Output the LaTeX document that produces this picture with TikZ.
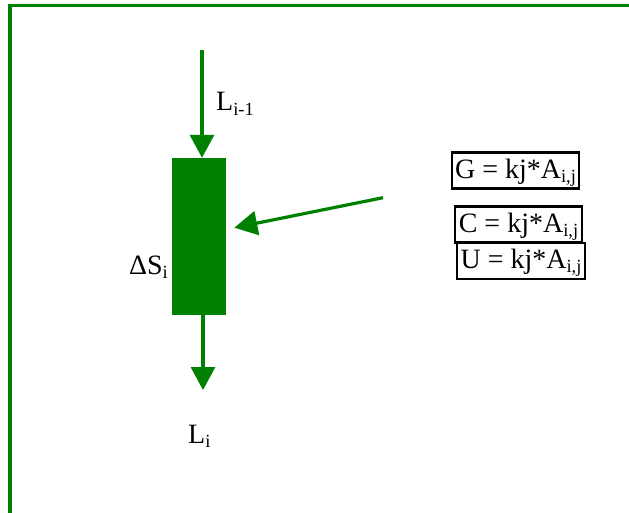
\documentclass[tikz,border=0pt]{standalone}
\usepackage{fontspec}
\setmainfont{Liberation Serif}
\usetikzlibrary{arrows.meta}
\definecolor{flow}{RGB}{0,128,0}
% lowered, smaller index text
\newcommand{\lowidx}[1]{\raisebox{-4.5pt}{\fontsize{18.5}{18.5}\selectfont #1}}
\begin{document}
\begin{tikzpicture}[x=1pt,y=-1pt,
  flowline/.style={draw=flow, line width=3.2pt, -{Triangle[width=24pt,length=23pt]}},
  lbl/.style={inner sep=0pt, font=\fontsize{28}{28}\selectfont},
  eqbox/.style={draw=black, line width=2.2pt, inner sep=0pt,
    text height=20pt, text depth=5pt, minimum height=36pt,
    font=\fontsize{28}{28}\selectfont}]
\useasboundingbox (0,0) rectangle (629,512);
\clip (0,0) rectangle (629,512);
% frame
\draw[flow, line width=3.4pt] (10,5.7) rectangle (700,600);

% storage block
\node[fill=flow, inner sep=0pt, minimum width=54pt, minimum height=157pt] (stor) at (199,236.5) {};

% inflow and outflow
\coordinate (top) at (202,50);
\coordinate (bot) at (203,390);
\draw[flowline] (top) -- (top |- stor.north);
\draw[flowline] (bot |- stor.south) -- (bot);

% lateral input
\coordinate (src) at (383,197.7);
\coordinate (tgt) at (234.3,227.7);
\draw[flowline] (src) -- (tgt);

% labels
\node[lbl, anchor=base west] (lin) at (216,110.5) {L\lowidx{i-1}};
\node[lbl, anchor=base east] (ds) at (168,274) {ΔS\lowidx{i}};
\node[lbl, anchor=base west] (lout) at (188,443) {L\lowidx{i}};

% equations
\node[eqbox, minimum width=127pt] (g) at (515.5,170.5) {G = kj*A\lowidx{i,j}};
\node[eqbox, minimum width=127pt] (c) at (518.5,224.5) {C = kj*A\lowidx{i,j}};
\node[eqbox, minimum width=128pt] (u) at (521,260.8) {U = kj*A\lowidx{i,j}};
\end{tikzpicture}
\end{document}
